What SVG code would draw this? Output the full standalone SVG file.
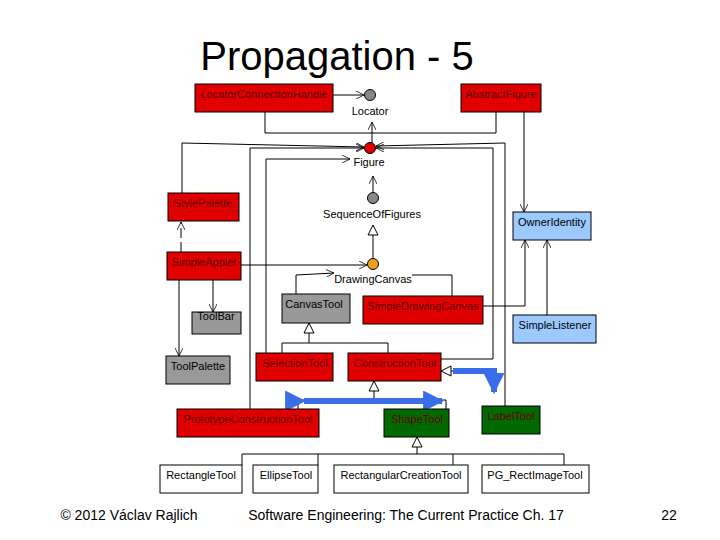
<svg xmlns="http://www.w3.org/2000/svg" width="720" height="540" viewBox="0 0 720 540">
<defs>
<style>
.r{fill:#e00000;stroke:#000;stroke-width:1}
.g{fill:#999;stroke:#000;stroke-width:1}
.b{fill:#9ccaff;stroke:#000;stroke-width:1}
.gr{fill:#006a00;stroke:#000;stroke-width:1}
.w{fill:#fff;stroke:#000;stroke-width:1}
text{font-family:"Liberation Sans",Arial,sans-serif;font-size:11px;text-anchor:middle}
.dt{fill:#600}
.c line,.c polyline{fill:none;stroke:#000;stroke-width:1}
</style>
<marker id="o" viewBox="0 0 10 10" refX="10" refY="5" markerWidth="8" markerHeight="8" orient="auto"><path d="M0,0L10,5L0,10" fill="none" stroke="#000"/></marker>
<marker id="t" viewBox="0 0 12 12" refX="11" refY="6" markerWidth="12" markerHeight="12" markerUnits="userSpaceOnUse" orient="auto"><path d="M1,1L11,6L1,11Z" fill="#fff" stroke="#000"/></marker>
<marker id="bl" viewBox="0 0 10 10" refX="9" refY="5" markerWidth="3.5" markerHeight="3.5" orient="auto"><path d="M0,0L10,5L0,10Z" fill="#3a6ee8"/></marker>
</defs>
<rect width="720" height="540" fill="#fff"/>
<text x="337" y="70" style="font-size:40px">Propagation - 5</text>

<g class="c" id="connectors">
<line x1="333" y1="95" x2="364" y2="95" marker-end="url(#o)"/>
<polyline points="265,112 265,133 496,133 496,112"/>
<line x1="372" y1="133" x2="372" y2="122" marker-end="url(#o)"/>
<line x1="372" y1="133" x2="372" y2="143"/>
<polyline points="182,193 182,143 364,147" marker-end="url(#o)"/>
<polyline points="250,409 250,148 364,148" marker-end="url(#o)"/>
<polyline points="441,359 493,359 493,148 376,148" marker-end="url(#o)"/>
<polyline points="266,353 266,159 350,159" marker-end="url(#o)"/>
<polyline points="505,406 505,143 376,146" marker-end="url(#o)"/>
<line x1="524" y1="112" x2="524" y2="212" marker-end="url(#o)"/>
<polyline points="483,306 525,306 525,240" marker-end="url(#o)"/>
<line x1="547" y1="315" x2="547" y2="240" marker-end="url(#o)"/>
<line x1="373" y1="193" x2="373" y2="176" marker-end="url(#o)"/>
<line x1="373" y1="259" x2="373" y2="225" marker-end="url(#t)"/>
<line x1="241" y1="265" x2="367" y2="265" marker-end="url(#o)"/>
<line x1="181" y1="252" x2="181" y2="222" stroke-dasharray="10,4" marker-end="url(#o)"/>
<line x1="179" y1="280" x2="179" y2="356" marker-end="url(#o)"/>
<line x1="213" y1="280" x2="213" y2="312" marker-end="url(#o)"/>
<polyline points="296,294 296,275 334,273" marker-end="url(#o)"/>
<polyline points="452,296 452,275 412,275"/>
<polyline points="282,353 282,343 388,343 388,353"/>
<line x1="309" y1="343" x2="309" y2="323" marker-end="url(#t)"/>
<line x1="374" y1="400" x2="374" y2="381" marker-end="url(#t)"/>
<polyline points="298,409 298,400 446,400 446,409"/>
<line x1="453" y1="371" x2="441" y2="371" marker-end="url(#t)"/>
<line x1="417" y1="454" x2="417" y2="437" marker-end="url(#t)"/>
<polyline points="242,465 242,454 564,454 564,465"/>
<line x1="318" y1="454" x2="318" y2="465"/>
<line x1="453" y1="454" x2="453" y2="465"/>
<line x1="304" y1="401" x2="442" y2="401" stroke="#3a6ee8" stroke-width="6" marker-start="url(#bl)" marker-end="url(#bl)" style="stroke:#3a6ee8;stroke-width:6"/>
<polyline points="453,371 494,371 494,392" style="stroke:#3a6ee8;stroke-width:6" marker-end="url(#bl)"/>
</g>

<g id="LocatorConnectionHandle"><rect class="r" x="195" y="84" width="138" height="28"/><text class="dt" x="264" y="98">LocatorConnectionHandle</text></g>
<g id="AbstractFigure"><rect class="r" x="461" y="84" width="80" height="28"/><text class="dt" x="501" y="98">AbstractFigure</text></g>
<g id="Locator"><circle cx="370" cy="95" r="5.5" fill="#888" stroke="#000"/><text x="370" y="115">Locator</text></g>
<g id="Figure"><circle cx="370" cy="148" r="5.5" fill="#e00000" stroke="#000"/><text x="369" y="166">Figure</text></g>
<g id="StylePalette"><rect class="r" x="168" y="193" width="71" height="28"/><text class="dt" x="203" y="207">StylePalette</text></g>
<g id="SequenceOfFigures"><circle cx="373" cy="198" r="5.5" fill="#888" stroke="#000"/><text x="372" y="218">SequenceOfFigures</text></g>
<g id="OwnerIdentity"><rect class="b" x="513" y="212" width="78" height="28"/><text x="552" y="226">OwnerIdentity</text></g>
<g id="SimpleApplet"><rect class="r" x="167" y="252" width="74" height="28"/><text class="dt" x="204" y="266">SimpleApplet</text></g>
<g id="DrawingCanvas"><circle cx="373" cy="264" r="5.5" fill="#f0a020" stroke="#000"/><text x="373" y="283">DrawingCanvas</text></g>
<g id="CanvasTool"><rect class="g" x="282" y="294" width="68" height="29"/><text x="314" y="308">CanvasTool</text></g>
<g id="SimpleDrawingCanvas"><rect class="r" x="363" y="296" width="120" height="28"/><text class="dt" x="423" y="310">SimpleDrawingCanvas</text></g>
<g id="ToolBar"><rect class="g" x="192" y="312" width="49" height="22"/><text x="216" y="320">ToolBar</text></g>
<g id="SimpleListener"><rect class="b" x="513" y="315" width="83" height="28"/><text x="555" y="329">SimpleListener</text></g>
<g id="ToolPalette"><rect class="g" x="166" y="356" width="64" height="28"/><text x="198" y="370">ToolPalette</text></g>
<g id="SelectionTool"><rect class="r" x="256" y="353" width="77" height="28"/><text class="dt" x="295" y="367">SelectionTool</text></g>
<g id="ConstructionTool"><rect class="r" x="348" y="353" width="93" height="28"/><text class="dt" x="395" y="367">ConstructionTool</text></g>
<g id="PrototypeConstructionTool"><rect class="r" x="177" y="409" width="142" height="28"/><text class="dt" x="248" y="423">PrototypeConstructionTool</text></g>
<g id="ShapeTool"><rect class="gr" x="384" y="409" width="65" height="28"/><text class="dt" x="417" y="423">ShapeTool</text></g>
<g id="LabelTool"><rect class="gr" x="482" y="406" width="58" height="28"/><text class="dt" x="511" y="420">LabelTool</text></g>
<g id="RectangleTool"><rect class="w" x="160" y="465" width="82" height="28"/><text x="201" y="479">RectangleTool</text></g>
<g id="EllipseTool"><rect class="w" x="253" y="465" width="65" height="28"/><text x="286" y="479">EllipseTool</text></g>
<g id="RectangularCreationTool"><rect class="w" x="334" y="465" width="134" height="28"/><text x="401" y="479">RectangularCreationTool</text></g>
<g id="PG_RectImageTool"><rect class="w" x="482" y="465" width="107" height="28"/><text x="535" y="479">PG_RectImageTool</text></g>

<text x="129" y="520" style="font-size:14px">© 2012 Václav Rajlich</text>
<text x="406" y="520" style="font-size:14px">Software Engineering: The Current Practice   Ch. 17</text>
<text x="669" y="520" style="font-size:14px">22</text>
</svg>
